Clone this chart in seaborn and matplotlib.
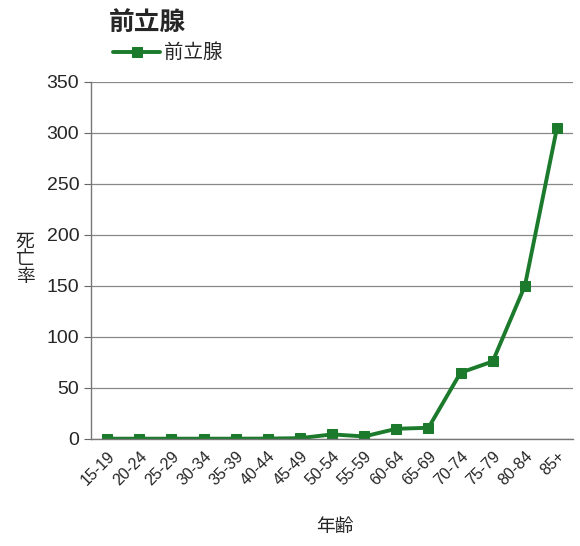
import matplotlib
matplotlib.use("Agg")
import matplotlib.pyplot as plt
import seaborn as sns
import pandas as pd

# age groups and death rate for prostate cancer
age_groups = ["15-19", "20-24", "25-29", "30-34", "35-39", "40-44", "45-49",
              "50-54", "55-59", "60-64", "65-69", "70-74", "75-79", "80-84", "85+"]
death_rate = [0.3, 0.3, 0.3, 0.3, 0.3, 0.4, 0.8, 4.5, 2.5, 10, 11, 65, 76, 150, 305]
y_ticks = [0, 50, 100, 150, 200, 250, 300, 350]

series_name = "前立腺"
green = "#1b7a2b"

df = pd.DataFrame({"age": age_groups, "rate": death_rate, "pos": range(len(age_groups))})

sns.set_style("white")
plt.rcParams["font.family"] = ["Liberation Sans", "Noto Sans CJK JP"]

fig = plt.figure(figsize=(5.8, 5.46), dpi=100)
ax = fig.add_axes([0.157, 0.196, 0.831, 0.654])

sns.lineplot(data=df, x="pos", y="rate", ax=ax, color=green, lw=2.8,
             marker="s", markersize=7.5, markeredgecolor=green, label=series_name)

ax.set_xlim(-0.5, len(age_groups) - 0.5)
ax.set_ylim(0, 350)
ax.set_yticks(y_ticks)
ax.set_yticklabels([str(v) for v in y_ticks], fontsize=14)
ax.yaxis.grid(True, color="#888888", lw=0.9)
ax.set_axisbelow(True)

# category labels at band centers, tick marks at band edges
ax.set_xticks(range(len(age_groups)))
ax.set_xticklabels(age_groups, rotation=45, ha="right", rotation_mode="anchor", fontsize=11.5)
ax.tick_params(axis="x", which="major", length=0, pad=7)
ax.set_xticks([i - 0.5 for i in range(len(age_groups) + 1)], minor=True)
ax.tick_params(axis="x", which="minor", length=5, color="#666666", direction="out")
ax.tick_params(axis="y", length=5, color="#666666", direction="out", left=True)

for side in ["top", "right"]:
    ax.spines[side].set_visible(False)
for side in ["left", "bottom"]:
    ax.spines[side].set_color("#777777")
    ax.spines[side].set_linewidth(1.0)

ax.set_xlabel("")
ax.set_ylabel("")
fig.text(0.578, 0.033, "年齢", ha="center", va="center", fontsize=13.5)
fig.text(0.043, 0.524, "死\n亡\n率", ha="center", va="center", fontsize=13.5, linespacing=1.05)
fig.text(0.188, 0.957, series_name, ha="left", va="center", fontsize=18.5, fontweight="bold")

ax.legend(loc="center left", bbox_to_anchor=(0.046, 1.081), frameon=False, fontsize=14,
          handlelength=2.4, handletextpad=0.2, borderaxespad=0, borderpad=0)

fig.savefig("out.png", dpi=100)
